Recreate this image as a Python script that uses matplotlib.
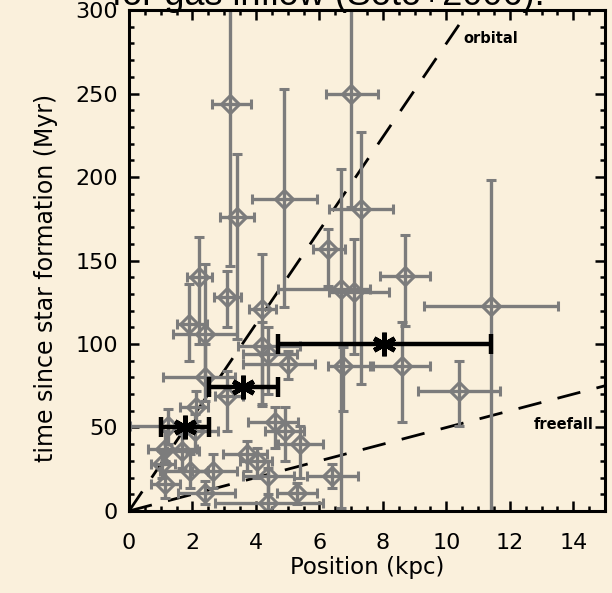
import numpy as np
import matplotlib
matplotlib.use("Agg")
import matplotlib.pyplot as plt
from matplotlib.ticker import MultipleLocator

# --- gray points: position, age, and error-bar extents (absolute bounds) ---
pos = [3.18, 3.39, 4.89, 7.00, 7.30, 6.28, 6.68, 7.10, 6.75, 8.70, 8.60, 10.41, 11.40,
       2.20, 1.89, 2.40, 3.10, 4.20, 4.18, 4.39, 5.02, 2.40, 3.08, 1.24, 2.08, 1.13,
       1.66, 1.03, 1.92, 2.66, 1.13, 2.40, 3.71, 4.02, 4.39, 4.39, 4.60, 4.92, 5.39,
       5.28, 6.39, 2.10]
age = [244, 176, 187, 250, 181, 157, 133, 131, 87, 141, 87, 72, 123,
       140, 112, 106, 128, 121, 99, 94, 88, 80, 69, 51, 48, 37,
       36, 28, 24, 24, 16, 11, 34, 30, 21, 5, 53, 48, 40,
       11, 21, 62]
pos_lo = [2.60, 2.87, 3.88, 6.20, 6.30, 5.80, 4.70, 6.30, 6.27, 7.90, 7.70, 9.10, 9.28,
          1.82, 1.50, 1.40, 2.69, 3.79, 3.45, 3.60, 3.60, 1.08, 2.70, 0.03, 1.66, 0.61,
          1.20, 0.70, 0.98, 2.00, 0.70, 1.55, 2.97, 3.50, 3.60, 2.71, 3.76, 4.30, 4.70,
          4.65, 5.60, 1.60]
pos_hi = [3.85, 3.94, 5.91, 7.85, 8.32, 6.80, 7.60, 8.20, 7.60, 9.50, 9.50, 11.70, 13.53,
          2.60, 2.45, 3.40, 3.53, 4.63, 5.39, 5.30, 5.86, 3.34, 3.60, 1.98, 2.81, 2.13,
          2.20, 1.45, 2.50, 3.39, 1.60, 3.34, 4.34, 4.50, 5.20, 6.12, 5.34, 5.50, 6.12,
          5.92, 7.23, 2.50]
age_lo = [147, 103, 122, 182, 76, 135, 2, 94, 60, 111, 53, 51, 0,
          100, 90, 80, 110, 63, 64, 70, 79, 66, 48, 40, 36, 30,
          26, 20, 14, 14, 8, 4, 24, 20, 10, 0, 38, 30, 20,
          4, 14, 54]
age_hi = [330, 214, 253, 330, 227, 169, 205, 163, 98, 165, 113, 90, 198,
          164, 136, 148, 144, 154, 113, 110, 96, 100, 84, 61, 58, 48,
          46, 36, 34, 34, 24, 18, 42, 38, 30, 26, 62, 62, 51,
          17, 28, 72]

# --- binned averages (black) ---
bin_pos = [1.76, 3.60, 8.04]
bin_age = [50, 74, 100]
bin_lo = [1.00, 2.53, 4.70]
bin_hi = [2.53, 4.70, 11.40]

# --- timescale lines (Myr per kpc) ---
orbital_slope = 28.0
freefall_slope = 5.0

bg = "#FAF0DC"
gray = "#7c7c7c"

fig = plt.figure(figsize=(6.12, 5.93), dpi=100, facecolor=bg)
ax = fig.add_axes([0.2108, 0.1383, 0.7778, 0.8448])
ax.set_facecolor(bg)

pos = np.array(pos); age = np.array(age)
xerr = [pos - np.array(pos_lo), np.array(pos_hi) - pos]
yerr = [age - np.array(age_lo), np.array(age_hi) - age]
ax.errorbar(pos, age, xerr=xerr, yerr=yerr, fmt="D", ms=9, mfc="none",
            mec=gray, mew=2.2, color=gray, ecolor=gray, elinewidth=2.4,
            capsize=3.5, capthick=2.4, zorder=2)

# dashed timescale lines
xx = np.array([0, 15])
ax.plot(xx, orbital_slope * xx, color="black", lw=2.0, dashes=(8.5, 6), zorder=1)
ax.plot(xx, freefall_slope * xx, color="black", lw=2.0, dashes=(8.5, 6), zorder=1)
ax.text(10.55, 283, "orbital", fontsize=10.5, fontweight="bold", va="center", ha="left")
ax.text(14.65, 52, "freefall", fontsize=10.5, fontweight="bold", va="center", ha="right")

bp = np.array(bin_pos)
ax.errorbar(bp, bin_age, xerr=[bp - np.array(bin_lo), np.array(bin_hi) - bp],
            fmt="none", ecolor="black", elinewidth=3.2, capsize=7, capthick=3.2, zorder=3)
ax.plot(bp, bin_age, ls="none", marker=(6, 2, 0), ms=17, mew=3.4, color="black", zorder=4)

ax.set_xlim(0, 15)
ax.set_ylim(0, 300)
ax.xaxis.set_major_locator(MultipleLocator(2))
ax.xaxis.set_minor_locator(MultipleLocator(0.5))
ax.yaxis.set_major_locator(MultipleLocator(50))
ax.yaxis.set_minor_locator(MultipleLocator(10))
ax.tick_params(which="both", direction="in", top=True, right=True, width=1.8,
               labelsize=16)
ax.tick_params(which="major", length=7)
ax.tick_params(which="minor", length=3.8)
ax.tick_params(axis="x", pad=16)
ax.tick_params(axis="y", pad=8)
for s in ax.spines.values():
    s.set_linewidth(2.2)

ax.set_xlabel("Position (kpc)", fontsize=16.5, labelpad=2)
ax.set_ylabel("time since star formation (Myr)", fontsize=17)
ax.yaxis.set_label_coords(-0.15, 0.465)

# title cut off at the top of the slide
fig.text(0.536, 0.9916, "for gas inflow (Soto+2006).", fontsize=26,
         family="Liberation Sans", ha="center", va="baseline")

fig.savefig("out.png", dpi=100, facecolor=bg)
